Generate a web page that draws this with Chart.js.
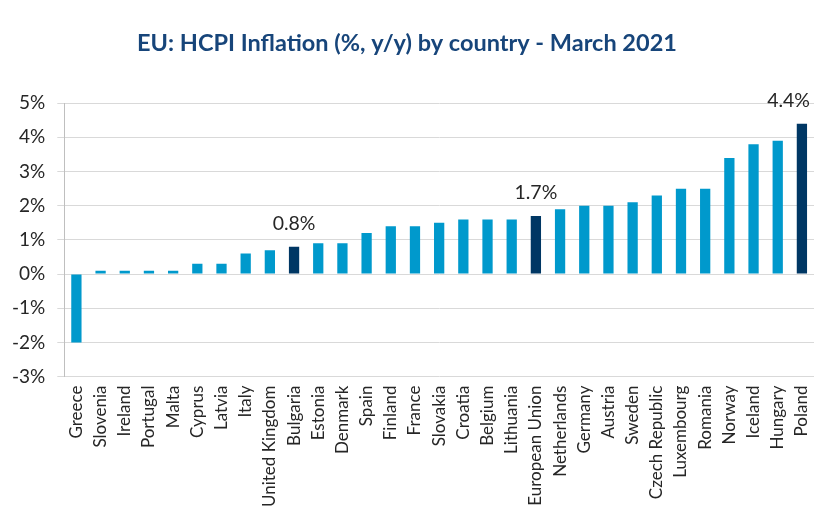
<!DOCTYPE html>
<html>
<head>
<meta charset="utf-8">
<script src="https://cdn.jsdelivr.net/npm/chart.js@4"></script>
<style>
  html, body { margin: 0; padding: 0; background: #fff; }
  #wrap { width: 814px; height: 514px; position: relative; }
</style>
</head>
<body>
<div id="wrap"><canvas id="hicp"></canvas></div>
<script>
// HICP y/y, March 2021
const countries = ['Greece', 'Slovenia', 'Ireland', 'Portugal', 'Malta', 'Cyprus', 'Latvia', 'Italy',
  'United Kingdom', 'Bulgaria', 'Estonia', 'Denmark', 'Spain', 'Finland', 'France', 'Slovakia', 'Croatia',
  'Belgium', 'Lithuania', 'European Union', 'Netherlands', 'Germany', 'Austria', 'Sweden', 'Czech Republic',
  'Luxembourg', 'Romania', 'Norway', 'Iceland', 'Hungary', 'Poland'];
const inflation = [-2.0, 0.1, 0.1, 0.1, 0.1, 0.3, 0.3, 0.6,
  0.7, 0.8, 0.9, 0.9, 1.2, 1.4, 1.4, 1.5, 1.6,
  1.6, 1.6, 1.7, 1.9, 2.0, 2.0, 2.1, 2.3,
  2.5, 2.5, 3.4, 3.8, 3.9, 4.4];
const highlighted = ['Bulgaria', 'European Union', 'Poland'];
const yTicks = [-3, -2, -1, 0, 1, 2, 3, 4, 5];

const LIGHT = '#0099cc', DARK = '#003764';
const barColors = countries.map(c => highlighted.includes(c) ? DARK : LIGHT);

// value labels over the highlighted bars (kept inside the canvas)
const valueLabels = {
  id: 'valueLabels',
  afterDatasetsDraw(chart) {
    const ctx = chart.ctx;
    const meta = chart.getDatasetMeta(0);
    ctx.save();
    ctx.font = '19.5px Lato';
    ctx.fillStyle = '#262626';
    ctx.textAlign = 'center';
    ctx.textBaseline = 'alphabetic';
    countries.forEach((c, i) => {
      if (!highlighted.includes(c)) return;
      const el = meta.data[i];
      const txt = inflation[i].toFixed(1) + '%';
      const half = ctx.measureText(txt).width / 2;
      const x = Math.min(el.x, chart.width - half - 4);
      ctx.fillText(txt, x, el.y - 17);
    });
    ctx.restore();
  }
};

new Chart(document.getElementById('hicp'), {
  type: 'bar',
  data: {
    labels: countries,
    datasets: [{ data: inflation, backgroundColor: barColors, barPercentage: 0.5, categoryPercentage: 0.85 }]
  },
  options: {
    responsive: true,
    maintainAspectRatio: false,
    animation: false,
    layout: { padding: { left: 0, right: 0, top: 0, bottom: 6 } },
    plugins: {
      legend: { display: false },
      tooltip: { enabled: false },
      title: {
        display: true,
        text: 'EU: HCPI Inflation (%, y/y) by country - March 2021',
        color: '#17457a',
        font: { family: 'Lato', size: 23.5, weight: 'bold' },
        padding: { top: 29, bottom: 46 }
      }
    },
    scales: {
      x: {
        grid: { display: false },
        border: { display: false },
        afterFit: s => { s.paddingLeft = 0; s.paddingRight = 0; },
        ticks: {
          color: '#262626',
          font: { family: 'Lato', size: 17 },
          minRotation: 90, maxRotation: 90,
          autoSkip: false, padding: 1
        }
      },
      y: {
        min: yTicks[0], max: yTicks[yTicks.length - 1],
        afterBuildTicks: axis => { axis.ticks = yTicks.map(v => ({ value: v })); },
        grid: { color: '#d9d9d9', tickLength: 7, lineWidth: 1 },
        border: { color: '#bfbfbf' },
        ticks: {
          color: '#262626',
          font: { family: 'Lato', size: 19 },
          padding: 12,
          callback: v => v + '%'
        }
      }
    }
  },
  plugins: [valueLabels]
});
</script>
</body>
</html>
